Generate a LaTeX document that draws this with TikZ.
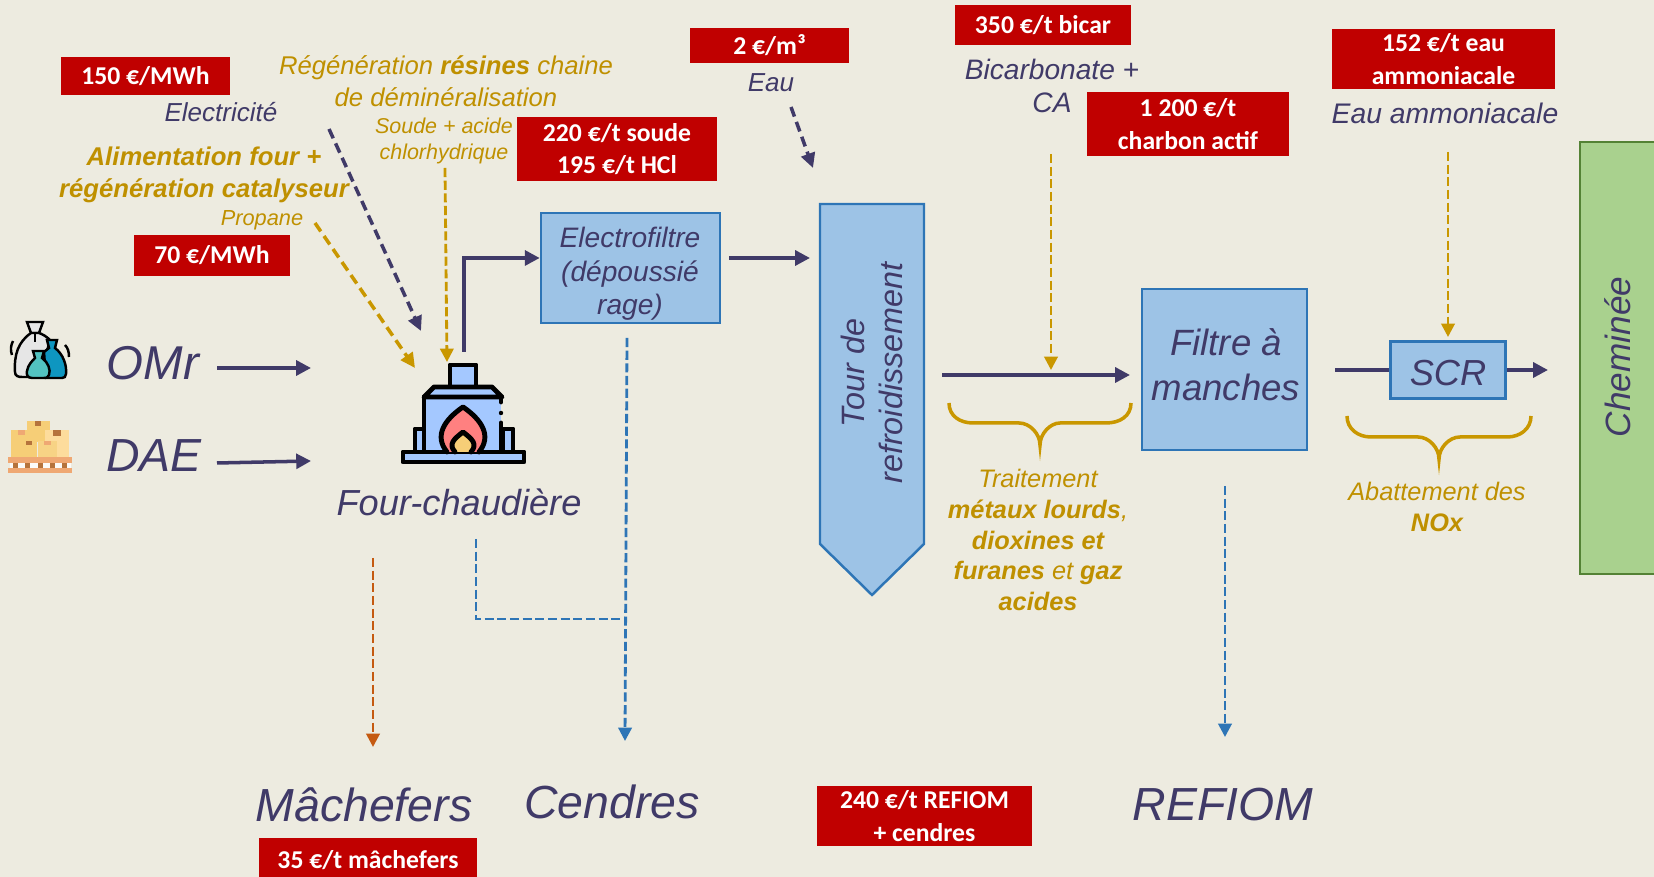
\documentclass[tikz,border=0pt]{standalone}
\usepackage{fontspec}
\setmainfont{Liberation Sans}
\newfontfamily\prixfont{Carlito}
\usetikzlibrary{arrows.meta}
\definecolor{fond}{HTML}{EDEBE0}
\definecolor{marine}{HTML}{403A68}
\definecolor{ocre}{HTML}{BF9000}
\definecolor{ocretrait}{HTML}{C99700}
\definecolor{rouge}{HTML}{C00000}
\definecolor{bleubox}{HTML}{9DC3E6}
\definecolor{bleutrait}{HTML}{2E75B6}
\definecolor{vertbox}{HTML}{A9D18E}
\definecolor{verttrait}{HTML}{548235}
\definecolor{orange}{HTML}{C55A11}
\definecolor{bleufour}{HTML}{A4C8FF}
\definecolor{flamme}{HTML}{FF8080}
\definecolor{carton}{HTML}{F6CE77}
\definecolor{cartonclair}{HTML}{FDDC9C}
\definecolor{adhesif}{HTML}{B5733C}
\definecolor{palette}{HTML}{EFA873}
\definecolor{sacbleu}{HTML}{0E96C0}
\definecolor{sacvert}{HTML}{52C2C0}
\definecolor{sacgris}{HTML}{E6E6E6}
\tikzset{
	prix/.style={fill=rouge, text=white, inner sep=0pt, align=center, font=\prixfont\bfseries\fontsize{7.3}{9.2}\selectfont},
	boite/.style={draw=bleutrait, fill=bleubox, line width=0.7pt, inner sep=0pt, align=center, text=marine},
	petit/.style={text=marine, align=center, inner sep=0pt, font=\itshape\fontsize{7.4}{9.4}\selectfont},
	grand/.style={text=marine, inner sep=0pt, font=\itshape\fontsize{13.2}{16}\selectfont},
	note/.style={text=ocre, align=center, inner sep=0pt, font=\itshape\fontsize{7.4}{9.1}\selectfont},
	flux/.style={draw=marine, line width=1pt, -{Triangle[length=4.2pt,width=4.2pt]}},
	fluxtir/.style={draw=#1, line width=1pt, dash pattern=on 2.9pt off 1.6pt, -{Triangle[length=4.2pt,width=4pt]}},
	fluxfin/.style={draw=#1, line width=0.8pt, dash pattern=on 2.6pt off 1pt, -{Triangle[length=3.8pt,width=3.8pt]}},
	accolade/.style={draw=ocretrait, line width=1pt},
	cerne/.style={draw=black, line width=1.4pt, line join=round, line cap=round},
}

\begin{document}
\begin{tikzpicture}[x=0.01cm,y=-0.01cm]
		%%%%% FOND %%%%%
		\path[use as bounding box, fill=fond] (0,0) rectangle (1654,877);

		%%%%% PRIX %%%%%
		\node[prix, minimum width=1.69cm, minimum height=0.38cm] (pElec) at (145.5,76) {150 €/MWh};
		\node[prix, minimum width=1.56cm, minimum height=0.41cm] (pPropane) at (212,255.5) {70 €/MWh};
		\node[prix, minimum width=2cm, minimum height=0.64cm] (pSoude) at (617,149) {220 €/t soude\\195 €/t HCl};
		\node[prix, minimum width=1.59cm, minimum height=0.35cm] (pEau) at (769.5,45.5) {2 €/m³};
		\node[prix, minimum width=1.76cm, minimum height=0.4cm] (pBicar) at (1043,25) {350 €/t bicar};
		\node[prix, minimum width=2.02cm, minimum height=0.64cm] (pCharbon) at (1188,124) {1 200 €/t\\charbon actif};
		\node[prix, minimum width=2.23cm, minimum height=0.6cm] (pAmmo) at (1443.5,59) {152 €/t eau\\ammoniacale};
		\node[prix, minimum width=2.15cm, minimum height=0.6cm] (pRefiom) at (924.5,816) {240 €/t REFIOM\\+ cendres};
		\node[prix, minimum width=2.18cm, minimum height=0.39cm, text height=6.6pt] (pMachefers) at (368,857.5) {35 €/t mâchefers};

		%%%%% ENTREES %%%%%
		\node[petit] (elec) at (221,112) {Electricité};
		\node[note, font=\itshape\fontsize{7.3}{9.1}\selectfont] (resines) at (446,81) {Régénération \textbf{résines} chaine\\de déminéralisation};
		\node[note, font=\itshape\fontsize{6.1}{7.4}\selectfont] (soude) at (444,141) {Soude + acide\\chlorhydrique};
		\node[note, font=\itshape\bfseries\fontsize{7.3}{9.1}\selectfont] (alim) at (204,175) {Alimentation four +\\régénération catalyseur};
		\node[note, font=\itshape\fontsize{6.2}{7.4}\selectfont] (propane) at (262,220) {Propane};
		\node[petit] (eau) at (771,83) {Eau};
		\node[petit, font=\itshape\fontsize{8}{9.6}\selectfont] (bicar) at (1052,86) {Bicarbonate +\\CA};
		\node[petit, font=\itshape\fontsize{8.05}{9.6}\selectfont] (ammo) at (1445,113) {Eau ammoniacale};
		\node[grand, font=\itshape\fontsize{13.5}{16}\selectfont] (omr) at (153,363) {OMr};
		\node[grand] (dae) at (154,456) {DAE};

		%%%%% EQUIPEMENTS %%%%%
		\node[text=marine, inner sep=0pt, font=\itshape\fontsize{10.3}{12}\selectfont] (four) at (459,502) {Four-chaudière};
		\node[boite, minimum width=1.79cm, minimum height=1.1cm] (electrofiltre) at (630.5,268) {};
		\node[text=marine, inner sep=0pt, align=center, font=\itshape\fontsize{8}{9.5}\selectfont] (electrofiltreTxt) at (630,274) {Electrofiltre\\(dépoussié\\rage)};
		\draw[draw=bleutrait, fill=bleubox, line width=0.7pt] (820,204) -- (924,204) -- (924,544) -- (872,595) -- (820,544) -- cycle;
		\node[text=marine, inner sep=0pt, align=center, rotate=90, font=\itshape\fontsize{9.2}{11}\selectfont] (tour) at (872,373) {Tour de\\refroidissement};
		\node[boite, minimum width=1.65cm, minimum height=1.61cm] (filtre) at (1224.5,369.5) {};
		\node[text=marine, inner sep=0pt, align=center, font=\itshape\fontsize{10.4}{12.8}\selectfont] (filtreTxt) at (1226,365) {Filtre à\\manches};
		\node[boite, minimum width=1.15cm, minimum height=0.57cm, text height=9.1pt, font=\itshape\fontsize{10.3}{12}\selectfont] (scr) at (1448,370) {SCR};
		\node[draw=verttrait, fill=vertbox, line width=0.7pt, rotate=90, minimum width=4.32cm, minimum height=0.9cm, inner sep=0pt] (cheminee) at (1625,358) {};
		\node[text=marine, inner sep=0pt, rotate=90, font=\itshape\fontsize{10}{12}\selectfont] (chemineeTxt) at (1618,357) {Cheminée};

		%%%%% NOTES %%%%%
		\draw[accolade] (949,403) .. controls (949,416) and (960,423) .. (973,423) -- (1019,423) .. controls (1030,423) and (1040,434) .. (1040,445) .. controls (1040,434) and (1050,423) .. (1060,423) -- (1106,423) .. controls (1120,423) and (1131,416) .. (1131,403);
		\draw[accolade] (1347,416) .. controls (1347,429) and (1358,437) .. (1371,437) -- (1418,437) .. controls (1429,437) and (1439,448) .. (1439,459) .. controls (1439,448) and (1449,437) .. (1460,437) -- (1507,437) .. controls (1520,437) and (1531,429) .. (1531,416);
		\node[note, font=\itshape\fontsize{7.2}{8.8}\selectfont] (traitement) at (1038,540) {Traitement\\\textbf{métaux lourds},\\\textbf{dioxines et}\\\textbf{furanes} et \textbf{gaz}\\\textbf{acides}};
		\node[note, font=\itshape\fontsize{7.2}{8.8}\selectfont] (abattement) at (1437,507) {Abattement des\\\textbf{NOx}};

		%%%%% SORTIES %%%%%
		\node[grand] (machefers) at (364,805) {Mâchefers};
		\node[grand] (cendres) at (612,802) {Cendres};
		\node[grand] (refiom) at (1223,805) {REFIOM};

		%%%%% ICONE FOUR %%%%%
		\draw[cerne, fill=bleufour] (450,385) -- (450,365) -- (476,365) -- (476,385);
		\draw[cerne, fill=bleufour] (415,452) -- (415,429) -- (424,429) -- (424,452);
		\draw[cerne, fill=bleufour] (503,452) -- (503,429) -- (513,429) -- (513,452);
		\fill[bleufour] (424,397) rectangle (501,452);
		\draw[cerne] (424,452) -- (424,397);
		\draw[cerne] (501,397) -- (501,402);
		\draw[cerne] (501,423) -- (501,452);
		\fill[black] (501,413) circle (2.2);
		\draw[cerne, fill=bleufour] (424,397) -- (434,387) -- (492,387) -- (502,397) -- cycle;
		\draw[cerne, fill=bleufour] (403,452) rectangle (524,462);
		\draw[cerne, fill=flamme] (447,452) .. controls (434,436) and (444,420) .. (463,407) .. controls (482,420) and (492,436) .. (479,452);
		\draw[cerne, fill=carton] (455,452) .. controls (448,444) and (454,439) .. (463,432) .. controls (472,439) and (478,444) .. (471,452);

		%%%%% ICONE SACS %%%%%
		\draw[line width=0.7pt, fill=sacgris] (27,322) -- (43,322) -- (39,333) -- (31,333) -- cycle;
		\draw[line width=0.7pt, fill=sacgris] (31,333) .. controls (18,342) and (14,355) .. (15,372) .. controls (15,376) and (18,377) .. (22,377) -- (40,377) -- (50,340) .. controls (46,336) and (42,334) .. (39,333) -- cycle;
		\draw[line width=0.7pt] (35,333) -- (35,342);
		\draw[line width=0.7pt] (13,341) .. controls (11,345) and (10,350) .. (12,355);
		\draw[line width=0.7pt] (65,345) .. controls (68,348) and (69,352) .. (69,357);
		\draw[line width=0.7pt, fill=sacbleu] (47,340) -- (57,340) -- (55,348) .. controls (63,354) and (67,365) .. (66,374) .. controls (66,377) and (64,378) .. (62,378) -- (46,378) -- (44,352) -- (49,348) -- cycle;
		\draw[line width=0.7pt, fill=sacvert] (33,351) -- (44,351) -- (42,358) .. controls (48,362) and (51,370) .. (49,375) .. controls (48,378) and (46,378) .. (44,378) -- (32,378) .. controls (28,378) and (26,375) .. (27,371) .. controls (28,365) and (32,361) .. (35,358) -- cycle;

		%%%%% ICONE CARTONS %%%%%
		\fill[carton] (27,421) rectangle (50,442);
		\fill[adhesif] (35,421) rectangle (41,426);
		\fill[carton] (11,430) rectangle (32,457);
		\fill[palette] (18,430) rectangle (25,435);
		\fill[cartonclair] (45,430) rectangle (69,457);
		\fill[adhesif] (53,430) rectangle (61,436);
		\fill[carton] (19,441) rectangle (37,457);
		\fill[adhesif] (26,441) rectangle (32,445);
		\fill[carton!90!white] (38,441) rectangle (57,457);
		\fill[palette] (44,441) rectangle (51,445);
		\fill[white!80!fond] (10,463) rectangle (71,468);
		\fill[palette] (8,457) rectangle (72,463);
		\fill[palette] (8,468) rectangle (72,473);
		\foreach \px in {15,27,40,52,64} {
			\fill[adhesif] (\px-2.5,463) rectangle (\px+2.5,468);
		}

		%%%%% FLUX %%%%%
		\coordinate (omrDep) at (217,368);
		\coordinate (omrArr) at (311,368);
		\coordinate (daeDep) at (217,463);
		\coordinate (daeArr) at (311,461);
		\coordinate (fourHaut) at (464,352);
		\coordinate (elecDep) at (329,129);
		\coordinate (elecArr) at (421,331);
		\coordinate (propDep) at (315,223);
		\coordinate (propArr) at (415,368);
		\coordinate (soudeDep) at (445,168);
		\coordinate (soudeArr) at (447,362);
		\coordinate (eauDep) at (791,107);
		\coordinate (eauArr) at (813,168);
		\coordinate (filtreSor) at (729,258);
		\coordinate (tourEnt) at (810,258);
		\coordinate (tourSor) at (942,375);
		\coordinate (filtreEnt) at (1130,375);
		\coordinate (bicarDep) at (1051,154);
		\coordinate (bicarArr) at (1051,370);
		\coordinate (ammoDep) at (1448,152);
		\coordinate (ammoArr) at (1448,337);
		\coordinate (scrEnt) at (1335,370);
		\coordinate (scrSor) at (1548,370);
		\coordinate (machDep) at (373,558);
		\coordinate (machArr) at (373,747);
		\coordinate (cendDep) at (627,338);
		\coordinate (cendArr) at (625,741);
		\coordinate (fourDep) at (476,539);
		\coordinate (fourCoude) at (476,619);
		\coordinate (cendJonc) at (624,619);
		\coordinate (refDep) at (1225,486);
		\coordinate (refArr) at (1225,737);

		\draw[flux] (omrDep) -- (omrArr);
		\draw[flux] (daeDep) -- (daeArr);
		\draw[flux] (fourHaut) -- (fourHaut |- filtreSor) -- (electrofiltre.west |- filtreSor);
		\draw[flux] (filtreSor) -- (tourEnt);
		\draw[flux] (tourSor) -- (filtreEnt);
		\draw[draw=marine, line width=1pt] (scrEnt) -- (scr.west);
		\draw[flux] (scr.east) -- (scrSor);

		\draw[fluxtir=marine] (elecDep) -- (elecArr);
		\draw[fluxtir=ocretrait] (propDep) -- (propArr);
		\draw[fluxfin=ocretrait] (soudeDep) -- (soudeArr);
		\draw[fluxtir=marine] (eauDep) -- (eauArr);
		\draw[fluxfin=ocretrait] (bicarDep) -- (bicarArr);
		\draw[fluxfin=ocretrait] (ammoDep) -- (ammoArr);
		\draw[fluxfin=orange] (machDep) -- (machArr);
		\draw[fluxfin=bleutrait] (cendDep) -- (cendArr);
		\draw[draw=bleutrait, line width=0.8pt, dash pattern=on 2.6pt off 1pt] (fourDep) -- (fourCoude) -- (cendJonc);
		\draw[fluxfin=bleutrait] (refDep) -- (refArr);
	\end{tikzpicture}
\end{document}
